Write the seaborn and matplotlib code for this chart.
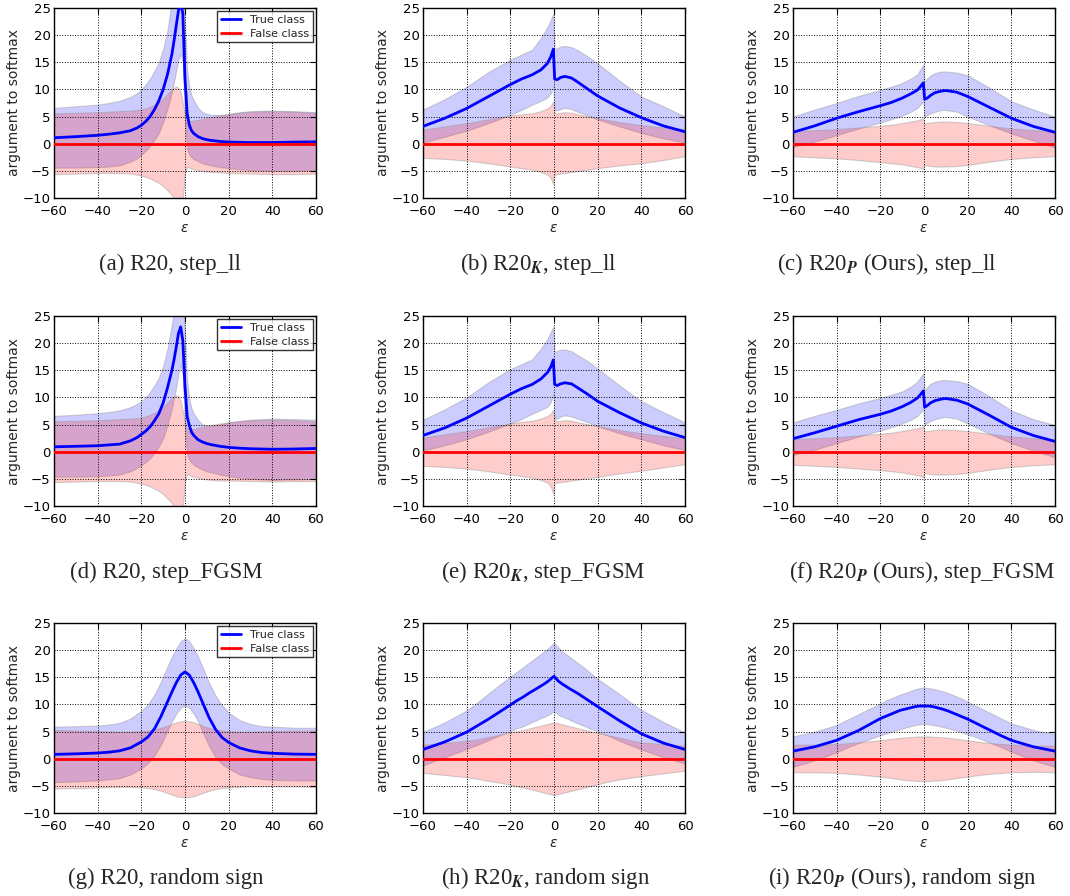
import matplotlib
matplotlib.use('Agg')
import matplotlib.pyplot as plt
import seaborn as sns

# ---------------------------------------------------------------- data
# epsilon positions (knots)
X_SHARP = [-60, -50, -40, -35, -30, -25, -22, -20, -18, -16,
           -14, -12, -10, -8, -6, -5, -4, -3, -2, -1,
           0, 1, 2, 3, 4, 6, 8, 10, 12, 16,
           20, 25, 30, 40, 50, 60]
X_STEP = [-60, -50, -40, -30, -20, -15, -10, -6, -3, -1.5, -0.3, 0.3, 1.5, 3, 5, 8,
          10, 15, 20, 30, 40, 50, 60]
X_RAND = [-60, -50, -40, -35, -30, -25, -20, -17, -14, -11,
          -8, -6, -4, -2, 0, 2, 4, 6, 8, 11,
          14, 17, 20, 25, 30, 35, 40, 50, 60]

FALSE_MEAN = 0.0

# (a) R20, step_ll
a_true = [1.1, 1.3, 1.55, 1.75, 2.0, 2.4, 2.9, 3.4, 4.1, 5.0,
          6.3, 7.9, 10.0, 12.8, 16.5, 19.0, 21.8, 24.5, 26.0, 24.0,
          12.0, 5.5, 3.4, 2.4, 1.9, 1.3, 0.95, 0.75, 0.6, 0.42,
          0.32, 0.26, 0.22, 0.22, 0.3, 0.35]
a_true_hi = [6.6, 6.9, 7.2, 7.5, 7.9, 8.6, 9.3, 10.0, 10.9, 12.0,
             13.4, 15.0, 17.5, 21.0, 26.5, 29.0, 31.0, 33.0, 34.0, 32.0,
             22.0, 13.5, 10.5, 8.8, 8.0, 6.6, 5.8, 5.5, 5.3, 5.3,
             5.5, 5.8, 6.0, 6.1, 6.0, 5.8]
a_true_lo = [-4.4, -4.4, -4.3, -4.2, -4.0, -3.3, -2.7, -2.0, -1.3, -0.4,
             0.7, 2.0, 4.0, 6.5, 9.5, 11.5, 13.5, 15.5, 16.5, 15.0,
             4.0, -1.0, -2.0, -2.5, -2.8, -3.2, -3.6, -3.8, -4.0, -4.3,
             -4.5, -4.7, -4.9, -5.0, -5.0, -4.9]
a_false_hi = [5.6, 5.7, 5.8, 5.9, 6.0, 6.1, 6.2, 6.3, 6.5, 6.8,
              7.2, 7.6, 8.3, 9.2, 10.0, 10.3, 10.5, 10.3, 9.5, 7.5,
              5.5, 4.4, 4.2, 4.2, 4.3, 4.4, 4.6, 4.75, 4.9, 5.2,
              5.4, 5.7, 5.9, 6.0, 5.9, 5.7]
a_false_lo = [-5.6, -5.5, -5.4, -5.4, -5.4, -5.5, -5.7, -5.9, -6.1, -6.4,
              -6.8, -7.2, -7.8, -8.6, -9.5, -10.0, -10.6, -11.0, -11.0, -10.0,
              -5.5, -4.2, -4.4, -4.6, -4.7, -4.9, -5.0, -5.1, -5.2, -5.3,
              -5.4, -5.45, -5.5, -5.6, -5.6, -5.5]

# (b) R20_K, step_ll
b_true = [3.2, 4.7, 6.5, 8.7, 10.9, 11.9, 12.7, 13.6, 14.8, 16.0, 17.4, 11.9, 11.8, 12.2, 12.4, 12.1,
          11.6, 10.2, 8.8, 6.6, 4.8, 3.3, 2.2]
b_true_hi = [6.3, 8.2, 10.5, 13.2, 15.5, 16.4, 17.3, 19.5, 21.5, 22.8, 24.0, 17.4, 17.6, 17.9, 18.0, 17.8,
             17.4, 16.2, 14.8, 11.6, 8.7, 6.9, 5.0]
b_true_lo = [0.2, 1.3, 2.4, 3.8, 5.3, 6.2, 7.2, 7.9, 8.5, 9.3, 10.6, 6.2, 6.1, 6.4, 6.6, 6.4,
             6.0, 5.3, 4.5, 3.2, 2.0, 1.0, 0.2]
b_false_hi = [2.6, 3.2, 3.8, 4.5, 5.2, 5.4, 5.6, 6.0, 6.5, 7.0, 7.8, 5.6, 5.6, 5.7, 5.8, 5.7,
              5.5, 5.1, 4.7, 4.0, 3.4, 3.0, 2.7]
b_false_lo = [-2.6, -2.8, -3.1, -3.6, -4.2, -4.5, -4.8, -5.2, -5.7, -6.3, -7.5, -5.7, -5.6, -5.5, -5.4, -5.2,
              -5.1, -4.8, -4.5, -4.0, -3.6, -3.0, -2.3]

# (c) R20_P (Ours), step_ll
c_true = [2.1, 3.3, 4.7, 5.9, 7.0, 7.6, 8.4, 9.2, 9.9, 10.6, 11.2, 8.2, 8.4, 8.9, 9.4, 9.7,
          9.8, 9.5, 8.7, 6.7, 4.7, 3.2, 2.1]
c_true_hi = [5.0, 6.3, 7.5, 8.8, 9.9, 10.5, 11.2, 12.0, 12.8, 13.8, 14.6, 11.4, 12.0, 12.6, 13.0, 13.3,
             13.3, 13.1, 12.6, 10.3, 7.8, 6.3, 5.0]
c_true_lo = [-0.6, 0.4, 1.6, 2.8, 3.9, 4.5, 5.2, 5.9, 6.6, 7.3, 7.8, 5.0, 5.3, 5.6, 5.9, 6.2,
             6.2, 5.9, 5.0, 3.4, 1.9, 0.6, -0.7]
c_false_hi = [2.3, 2.5, 2.7, 3.0, 3.3, 3.5, 3.8, 4.1, 4.3, 4.5, 4.6, 3.7, 3.8, 3.9, 4.0, 4.1,
              4.1, 4.0, 3.8, 3.3, 2.8, 2.5, 2.3]
c_false_lo = [-2.3, -2.5, -2.7, -3.0, -3.4, -3.6, -3.8, -4.1, -4.3, -4.5, -4.7, -3.9, -4.0, -4.1, -4.2, -4.2,
              -4.2, -4.1, -3.9, -3.3, -2.8, -2.5, -2.3]

# (d) R20, step_FGSM
d_true = [0.9, 1.0, 1.1, 1.25, 1.4, 2.0, 2.6, 3.2, 3.8, 4.6,
          5.7, 7.0, 9.0, 11.8, 15.0, 17.0, 19.3, 21.8, 23.0, 20.5,
          12.0, 6.5, 4.8, 3.6, 3.0, 2.2, 1.8, 1.5, 1.3, 1.0,
          0.8, 0.65, 0.55, 0.45, 0.5, 0.6]
d_true_hi = [6.6, 6.8, 7.1, 7.3, 7.6, 8.2, 8.8, 9.3, 10.0, 11.0,
             12.2, 13.6, 15.8, 19.0, 23.5, 26.0, 29.0, 31.0, 31.0, 29.0,
             22.0, 13.0, 9.5, 8.0, 7.0, 5.8, 5.0, 4.8, 4.8, 5.0,
             5.4, 5.7, 5.9, 6.1, 6.0, 5.9]
d_true_lo = [-4.6, -4.6, -4.5, -4.4, -4.2, -3.6, -3.0, -2.5, -1.9, -1.2,
             -0.2, 1.0, 2.5, 5.0, 8.0, 10.0, 12.0, 14.5, 16.0, 14.0,
             4.0, -0.5, -1.5, -2.0, -2.4, -2.9, -3.3, -3.6, -3.8, -4.2,
             -4.5, -4.8, -5.0, -5.2, -5.1, -5.0]
d_false_hi = [5.6, 5.7, 5.8, 5.9, 6.0, 6.1, 6.2, 6.3, 6.5, 6.8,
              7.2, 7.6, 8.2, 9.1, 9.9, 10.2, 10.4, 10.2, 9.4, 7.4,
              5.3, 4.3, 4.1, 4.1, 4.2, 4.4, 4.6, 4.75, 4.9, 5.2,
              5.4, 5.6, 5.8, 5.9, 5.8, 5.6]
d_false_lo = [-5.6, -5.5, -5.4, -5.4, -5.4, -5.5, -5.7, -5.9, -6.1, -6.4,
              -6.8, -7.2, -7.8, -8.6, -9.5, -10.0, -10.6, -11.0, -11.0, -10.0,
              -5.5, -4.0, -4.3, -4.5, -4.6, -4.8, -5.0, -5.1, -5.2, -5.3,
              -5.3, -5.35, -5.4, -5.5, -5.4, -5.4]

# (e) R20_K, step_FGSM
e_true = [3.0, 4.4, 6.2, 8.4, 10.6, 11.6, 12.4, 13.4, 14.6, 15.6, 16.9, 12.4, 12.2, 12.5, 12.7, 12.5,
          12.0, 10.7, 9.3, 7.2, 5.3, 3.8, 2.6]
e_true_hi = [5.9, 7.8, 10.0, 12.8, 15.2, 16.1, 17.0, 19.0, 20.8, 22.0, 23.0, 18.3, 18.6, 18.8, 18.8, 18.5,
             18.0, 16.8, 15.3, 12.2, 9.3, 7.3, 5.4]
e_true_lo = [0.2, 1.2, 2.3, 3.7, 5.2, 6.0, 7.0, 7.7, 8.3, 9.2, 10.5, 6.0, 6.1, 6.5, 6.7, 6.5,
             6.2, 5.5, 4.7, 3.4, 2.3, 1.2, 0.3]
e_false_hi = [2.6, 3.2, 3.8, 4.5, 5.2, 5.5, 5.7, 6.1, 6.6, 7.0, 7.7, 5.7, 5.6, 5.7, 5.8, 5.7,
              5.5, 5.1, 4.7, 4.0, 3.4, 2.9, 2.5]
e_false_lo = [-2.6, -2.8, -3.1, -3.6, -4.2, -4.5, -4.8, -5.2, -5.7, -6.4, -7.8, -5.8, -5.7, -5.6, -5.5, -5.3,
              -5.2, -4.9, -4.6, -4.0, -3.5, -2.9, -2.3]

# (f) R20_P (Ours), step_FGSM
f_true = [2.4, 3.5, 4.7, 5.9, 6.9, 7.5, 8.3, 9.1, 9.9, 10.6, 11.2, 8.2, 8.5, 9.0, 9.4, 9.7,
          9.8, 9.5, 8.8, 6.7, 4.5, 3.0, 1.9]
f_true_hi = [5.4, 6.6, 7.7, 8.9, 9.9, 10.5, 11.1, 12.0, 12.9, 13.8, 14.5, 11.2, 11.9, 12.5, 12.9, 13.2,
             13.2, 13.0, 12.5, 10.2, 7.6, 6.0, 4.9]
f_true_lo = [-0.6, 0.4, 1.6, 2.8, 3.9, 4.5, 5.2, 5.9, 6.6, 7.3, 7.8, 5.0, 5.3, 5.7, 6.0, 6.3,
             6.4, 6.1, 5.2, 3.3, 1.6, 0.2, -1.0]
f_false_hi = [2.3, 2.5, 2.7, 3.0, 3.3, 3.5, 3.8, 4.1, 4.3, 4.5, 4.6, 3.7, 3.8, 3.9, 4.0, 4.1,
              4.1, 4.0, 3.8, 3.3, 2.8, 2.5, 2.3]
f_false_lo = [-2.4, -2.6, -2.8, -3.1, -3.4, -3.6, -3.8, -4.1, -4.3, -4.5, -4.7, -3.9, -4.0, -4.1, -4.2, -4.2,
              -4.2, -4.1, -3.9, -3.3, -2.8, -2.5, -2.3]

# (g) R20, random sign
g_true = [0.8, 0.9, 1.05, 1.2, 1.45, 2.0, 3.1, 4.0, 5.5, 7.8,
          10.5, 12.3, 14.0, 15.4, 16.0, 15.4, 14.0, 12.3, 10.4, 7.6,
          5.4, 3.9, 3.0, 2.0, 1.45, 1.15, 1.0, 0.85, 0.8]
g_true_hi = [5.9, 6.0, 6.1, 6.3, 6.6, 7.4, 8.8, 10.0, 11.8, 14.2,
             17.0, 18.8, 20.3, 21.6, 22.2, 21.6, 20.3, 18.8, 16.9, 14.0,
             11.6, 9.8, 8.5, 7.1, 6.4, 6.0, 5.9, 5.7, 5.7]
g_true_lo = [-4.3, -4.2, -4.0, -3.8, -3.6, -2.9, -1.8, -0.8, 0.6, 2.6,
             5.2, 6.9, 8.3, 9.4, 9.8, 9.4, 8.3, 6.9, 5.0, 2.4,
             0.3, -1.0, -1.8, -2.9, -3.4, -3.7, -3.9, -4.0, -4.0]
g_false_hi = [5.3, 5.2, 5.1, 5.05, 5.0, 5.0, 5.1, 5.2, 5.4, 5.7,
              6.1, 6.4, 6.7, 6.9, 7.0, 6.9, 6.7, 6.4, 6.1, 5.7,
              5.4, 5.2, 5.1, 5.0, 5.0, 5.05, 5.1, 5.2, 5.2]
g_false_lo = [-5.5, -5.4, -5.3, -5.25, -5.2, -5.2, -5.3, -5.4, -5.6, -5.9,
              -6.3, -6.6, -6.9, -7.05, -7.1, -7.05, -6.9, -6.6, -6.3, -5.9,
              -5.6, -5.4, -5.3, -5.2, -5.1, -5.1, -5.1, -5.1, -5.2]

# (h) R20_K, random sign
h_true = [1.7, 3.1, 4.9, 6.1, 7.3, 8.6, 9.9, 10.7, 11.4, 12.2,
          12.9, 13.4, 13.9, 14.5, 15.2, 14.3, 13.7, 13.2, 12.7, 12.0,
          11.2, 10.4, 9.6, 8.3, 7.0, 5.8, 4.6, 2.9, 1.7]
h_true_hi = [4.9, 6.7, 8.9, 10.4, 12.0, 13.6, 15.1, 16.0, 16.9, 17.8,
             18.7, 19.3, 19.9, 20.6, 21.4, 20.5, 19.7, 19.1, 18.5, 17.6,
             16.7, 15.7, 14.7, 13.3, 11.9, 10.4, 9.0, 6.8, 4.8]
h_true_lo = [-1.2, 0.3, 1.8, 2.6, 3.4, 4.3, 5.1, 5.6, 6.0, 6.6,
             7.1, 7.5, 7.8, 8.2, 8.8, 8.1, 7.7, 7.4, 7.0, 6.5,
             6.0, 5.5, 5.0, 4.2, 3.3, 2.5, 1.7, 0.3, -0.9]
h_false_hi = [2.6, 2.9, 3.3, 3.6, 4.0, 4.4, 4.8, 5.1, 5.3, 5.6,
              5.9, 6.1, 6.3, 6.5, 6.7, 6.5, 6.3, 6.1, 5.9, 5.6,
              5.3, 5.0, 4.8, 4.3, 3.9, 3.4, 3.0, 2.7, 2.4]
h_false_lo = [-2.6, -3.0, -3.4, -3.7, -4.1, -4.4, -4.8, -5.1, -5.3, -5.6,
              -5.9, -6.1, -6.3, -6.5, -6.7, -6.5, -6.3, -6.1, -5.9, -5.6,
              -5.3, -5.0, -4.7, -4.2, -3.8, -3.5, -3.2, -2.7, -2.2]

# (i) R20_P (Ours), random sign
i_true = [1.4, 2.2, 3.4, 4.3, 5.2, 6.3, 7.4, 7.9, 8.4, 8.9,
          9.2, 9.4, 9.6, 9.7, 9.7, 9.7, 9.6, 9.4, 9.2, 8.8,
          8.3, 7.8, 7.3, 6.3, 5.3, 4.3, 3.4, 2.2, 1.4]
i_true_hi = [4.1, 5.0, 6.2, 7.2, 8.2, 9.2, 10.2, 10.8, 11.3, 11.8,
             12.2, 12.5, 12.8, 13.0, 13.1, 13.0, 12.9, 12.7, 12.5, 12.1,
             11.6, 11.1, 10.5, 9.5, 8.5, 7.5, 6.5, 5.3, 4.5]
i_true_lo = [-1.5, -0.3, 1.2, 2.1, 2.9, 3.6, 4.3, 4.7, 5.1, 5.4,
             5.8, 6.0, 6.2, 6.35, 6.4, 6.35, 6.2, 6.1, 5.9, 5.6,
             5.3, 4.9, 4.5, 3.8, 3.0, 2.2, 1.3, -0.3, -1.5]
i_false_hi = [2.6, 2.6, 2.7, 2.85, 3.0, 3.2, 3.4, 3.55, 3.7, 3.85,
              3.95, 4.0, 4.05, 4.1, 4.1, 4.1, 4.05, 4.0, 3.95, 3.85,
              3.7, 3.55, 3.4, 3.1, 2.9, 2.75, 2.6, 2.4, 2.4]
i_false_lo = [-2.5, -2.5, -2.6, -2.75, -2.9, -3.1, -3.3, -3.45, -3.6, -3.8,
              -3.95, -4.0, -4.05, -4.1, -4.1, -4.1, -4.05, -4.0, -3.95, -3.8,
              -3.6, -3.45, -3.3, -3.0, -2.8, -2.65, -2.5, -2.4, -2.5]

captions = [
    "(a) R20, step_ll",
    r"(b) R20$_{\boldsymbol{K}}$, step_ll",
    r"(c) R20$_{\boldsymbol{P}}$ (Ours), step_ll",
    "(d) R20, step_FGSM",
    r"(e) R20$_{\boldsymbol{K}}$, step_FGSM",
    r"(f) R20$_{\boldsymbol{P}}$ (Ours), step_FGSM",
    "(g) R20, random sign",
    r"(h) R20$_{\boldsymbol{K}}$, random sign",
    r"(i) R20$_{\boldsymbol{P}}$ (Ours), random sign",
]
x_ticks = [-60, -40, -20, 0, 20, 40, 60]
y_ticks = [-10, -5, 0, 5, 10, 15, 20, 25]

# ---------------------------------------------------------------- style
sns.set_theme(style='white', rc={'axes.edgecolor': 'black', 'axes.linewidth': 1.0})
plt.rcParams['font.family'] = ['DejaVu Sans']

W, H = 1070, 896
fig = plt.figure(figsize=(W / 100, H / 100), dpi=100)

# panel geometry in pixels
col_left = [54, 423, 793]
row_top = [8, 316, 623]
ax_w, ax_h = 262, 190
cap_x = [170, 538, 887, 166, 543, 922, 166, 546, 902]
cap_y = [264, 572, 878]

panels = [
    (X_SHARP, a_true, a_true_hi, a_true_lo, a_false_hi, a_false_lo),
    (X_STEP, b_true, b_true_hi, b_true_lo, b_false_hi, b_false_lo),
    (X_STEP, c_true, c_true_hi, c_true_lo, c_false_hi, c_false_lo),
    (X_SHARP, d_true, d_true_hi, d_true_lo, d_false_hi, d_false_lo),
    (X_STEP, e_true, e_true_hi, e_true_lo, e_false_hi, e_false_lo),
    (X_STEP, f_true, f_true_hi, f_true_lo, f_false_hi, f_false_lo),
    (X_RAND, g_true, g_true_hi, g_true_lo, g_false_hi, g_false_lo),
    (X_RAND, h_true, h_true_hi, h_true_lo, h_false_hi, h_false_lo),
    (X_RAND, i_true, i_true_hi, i_true_lo, i_false_hi, i_false_lo),
]

edge = (0.6, 0.6, 0.6, 0.45)

for k, (x, t_mean, t_hi, t_lo, f_hi, f_lo) in enumerate(panels):
    r, c = divmod(k, 3)
    ax = fig.add_axes([col_left[c] / W, 1 - (row_top[r] + ax_h) / H, ax_w / W, ax_h / H])

    # shaded +/- bands
    ax.fill_between(x, t_lo, t_hi, facecolor=(0, 0, 1, 0.2), edgecolor=edge, linewidth=0.8, zorder=1)
    ax.fill_between(x, f_lo, f_hi, facecolor=(1, 0, 0, 0.2), edgecolor=edge, linewidth=0.8, zorder=1)

    # mean curves
    sns.lineplot(x=x, y=t_mean, ax=ax, color='blue', lw=2, label='True class', legend=False, zorder=3)
    sns.lineplot(x=x, y=[FALSE_MEAN] * len(x), ax=ax, color='red', lw=2, label='False class',
                 legend=False, zorder=3)

    ax.set_xlim(-60, 60)
    ax.set_ylim(-10, 25)
    ax.set_xticks(x_ticks)
    ax.set_yticks(y_ticks)
    ax.grid(True, linestyle=':', color='black', linewidth=0.7)
    ax.set_axisbelow('line')
    ax.tick_params(direction='in', top=True, right=True, length=4, width=0.8,
                   labelsize=9.5, colors='black')
    ax.tick_params(axis='x', pad=5)
    ax.tick_params(axis='y', pad=2.5)
    ax.set_xlabel(r'$\epsilon$', fontsize=10, labelpad=2)
    ax.set_ylabel('argument to softmax', fontsize=10, labelpad=1)

    if c == 0:
        leg = ax.legend(loc='upper right', fontsize=8, frameon=True, fancybox=False,
                        edgecolor='black', borderaxespad=0.3, handlelength=1.8,
                        borderpad=0.35, labelspacing=0.3)
        leg.get_frame().set_linewidth(1.0)

    fig.text(cap_x[k] / W, 1 - cap_y[r] / H, captions[k], ha='center', va='center',
             fontsize=16.5, family='Liberation Serif', math_fontfamily='stix')

fig.savefig('out.png', dpi=100)
